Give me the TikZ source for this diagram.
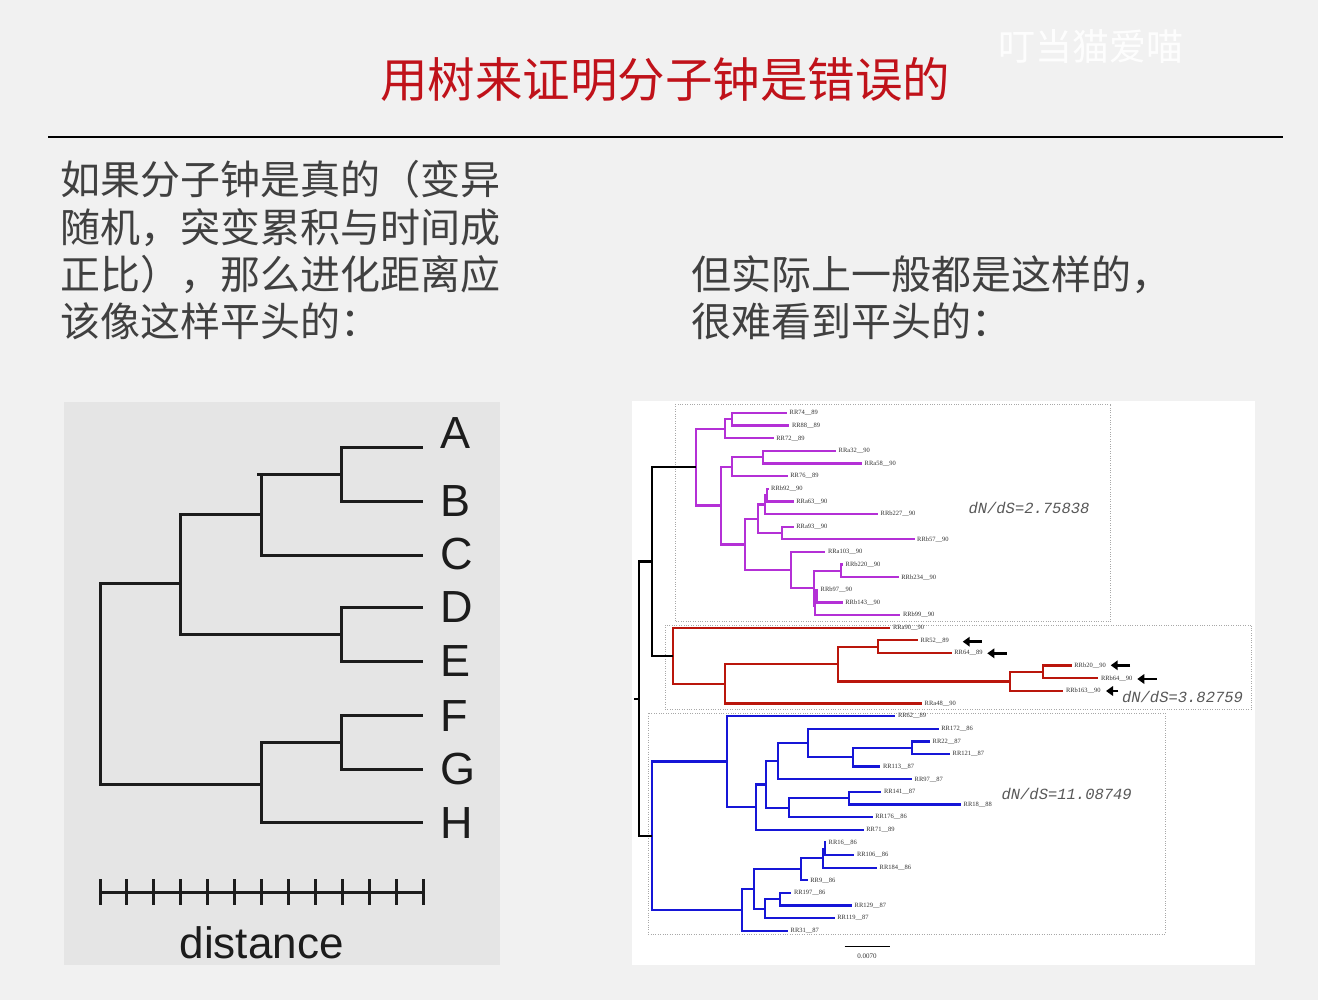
\documentclass[tikz,border=0pt]{standalone}
\usepackage{fontspec}
\setmainfont{Liberation Serif}
\newfontfamily\cjk{Noto Sans CJK SC}
\newfontfamily\arialf{Liberation Sans}
\newfontfamily\monof{Liberation Mono}
\usetikzlibrary{arrows.meta}

\definecolor{bgcol}{HTML}{F1F1F1}
\definecolor{panelgray}{HTML}{E5E5E5}
\definecolor{titlered}{RGB}{192,18,26}
\definecolor{bodygray}{HTML}{404040}
\definecolor{cpurple}{RGB}{180,48,214}
\definecolor{cred}{RGB}{186,22,12}
\definecolor{cblue}{RGB}{22,22,215}
\definecolor{boxgray}{HTML}{A8A8A8}
\definecolor{treeink}{HTML}{1C1C1C}
\definecolor{ratiogray}{HTML}{585858}

\tikzset{
  titletext/.style={anchor=base, text=titlered, font=\cjk\fontsize{47.5}{52}\selectfont, inner sep=0},
  bodytext/.style={anchor=base west, text=bodygray, font=\cjk\fontsize{40}{47}\selectfont, inner sep=0},
  simplebranch/.style={draw=treeink, line width=3pt},
  letterlabel/.style={anchor=west, text=treeink, font=\arialf\fontsize{45}{48}\selectfont, inner sep=0},
  br/.style={line width=2.3pt},
  leaflabel/.style={anchor=west, text=black!80, font=\fontsize{6.5}{7}\selectfont, inner sep=0, xshift=2.5pt},
  dotbox/.style={draw=boxgray, line width=0.8pt, dash pattern=on 0.8pt off 1.6pt},
  ratio/.style={text=ratiogray, font=\monof\itshape\fontsize{15.5}{17}\selectfont, inner sep=0},
  bigarrow/.style={draw=black, line width=2.6pt, -{Triangle[length=7pt,width=9.5pt]}},
}

% leaf: coordinate at the branch tip and its label to the right
\newcommand\tipleaf[4]{\coordinate (#1) at (#2,#3); \node[leaflabel] (#1-lab) at (#1) {#4};}

\begin{document}
\begin{tikzpicture}[x=1pt,y=-1pt]
% page
\fill[bgcol] (0,0) rectangle (1318,1000);
\useasboundingbox (0,0) rectangle (1318,1000);

% watermark
\node[anchor=base, text=white, opacity=0.9, font=\cjk\fontsize{37}{40}\selectfont, inner sep=0] (wm) at (1091,61) {叮当猫爱喵};

% heading and rule
\node[titletext] (title) at (665,98) {用树来证明分子钟是错误的};
\coordinate (ruleL) at (48,137);
\coordinate (ruleR) at (1283,137);
\draw[line width=1.8pt, black] (ruleL) -- (ruleR);

% explanatory text
\node[bodytext] (t1) at (60,195) {如果分子钟是真的（变异};
\node[bodytext] (t2) at (60,242.5) {随机，突变累积与时间成};
\node[bodytext] (t3) at (60,290) {正比），那么进化距离应};
\node[bodytext] (t4) at (60,337) {该像这样平头的：};
\node[bodytext] (u1) at (691,290) {但实际上一般都是这样的，};
\node[bodytext] (u2) at (691,337) {很难看到平头的：};

% ---------------- ultrametric tree ----------------
\fill[panelgray] (64,402) rectangle (500,965);

\coordinate (A) at (423,447);
\coordinate (B) at (423,501);
\coordinate (C) at (423,555);
\coordinate (D) at (423,607);
\coordinate (E) at (423,661);
\coordinate (F) at (423,715);
\coordinate (G) at (423,769);
\coordinate (H) at (423,822);
\coordinate (nAB) at (341.7,474);
\coordinate (nDE) at (341.7,634);
\coordinate (nFG) at (341.7,742);
\coordinate (nABC) at (261.7,514.5);
\coordinate (nFGH) at (261.7,784);
\coordinate (nABCDE) at (180,583);
\coordinate (nRoot) at (100,683);

\foreach \p/\c in {nRoot/nABCDE, nRoot/nFGH, nABCDE/nABC, nABCDE/nDE,
                   nABC/nAB, nABC/C, nAB/A, nAB/B, nDE/D, nDE/E,
                   nFGH/nFG, nFGH/H, nFG/F, nFG/G}
  \draw[simplebranch] (\p) |- (\c);
\draw[simplebranch] ([xshift=-4.7pt]nABC |- nAB) -- (nAB);

\node[letterlabel] (labA) at (440,433) {A};
\node[letterlabel] (labB) at (440,501) {B};
\node[letterlabel] (labC) at (440,554) {C};
\node[letterlabel] (labD) at (440,607) {D};
\node[letterlabel] (labE) at (440,661) {E};
\node[letterlabel] (labF) at (440,716) {F};
\node[letterlabel] (labG) at (440,769) {G};
\node[letterlabel] (labH) at (440,823) {H};

% distance scale
\coordinate (r0) at (100,892);
\coordinate (r1) at (423.3,892);
\draw[simplebranch] (r0) -- (r1);
\foreach \k in {0,...,12}
  \draw[simplebranch] ([shift={(\k*26.94,-13)}]r0) -- ([shift={(\k*26.94,13)}]r0);
\node[anchor=base, text=treeink, font=\arialf\fontsize{44}{48}\selectfont, inner sep=0] (dist) at (261.7,958) {distance};

% ---------------- observed tree ----------------
\fill[white] (632,401) rectangle (1255,965);

\draw[dotbox] (675.3,404) rectangle (1110.7,621.7);
\draw[dotbox] (665.3,625) rectangle (1251.7,709.3);
\draw[dotbox] (648,713.3) rectangle (1165,934);

% backbone
\coordinate (rootstem) at (634,698.7);
\coordinate (root) at (639.3,698.7);
\coordinate (nPR) at (652,561.5);
\coordinate (nBlue) at (652,835.8);

% purple clade
\coordinate (nP) at (696,467.2);
\coordinate (n72g) at (724.7,428.8);
\coordinate (n74) at (732,419.3);
\coordinate (nP2) at (721.3,505.6);
\coordinate (n76g) at (732,466.7);
\coordinate (na32) at (763,457.2);
\coordinate (nB) at (745.3,544.5);
\coordinate (nB1) at (757.7,518.8);
\coordinate (nb227) at (765.3,504.6);
\coordinate (nb92) at (767,495.1);
\coordinate (na93) at (782,533);
\coordinate (nB2) at (791,570.1);
\coordinate (nB2b) at (813.7,588.3);
\coordinate (nb220) at (841.3,570.9);
\coordinate (nb99g) at (815.3,605.6);
\coordinate (nb97) at (816.5,596.2);

\tipleaf{L0}{787}{413.0}{RR74\_\_89}
\tipleaf{L1}{789.3}{425.6}{RR88\_\_89}
\tipleaf{L2}{773.7}{438.3}{RR72\_\_89}
\tipleaf{L3}{836}{450.9}{RRa32\_\_90}
\tipleaf{L4}{862}{463.5}{RRa58\_\_90}
\tipleaf{L5}{787.7}{476.2}{RR76\_\_89}
\tipleaf{L6}{768.5}{488.8}{RRb92\_\_90}
\tipleaf{L7}{793.7}{501.4}{RRa63\_\_90}
\tipleaf{L8}{878}{514.0}{RRb227\_\_90}
\tipleaf{L9}{793.7}{526.7}{RRa93\_\_90}
\tipleaf{L10}{914.5}{539.3}{RRb57\_\_90}
\tipleaf{L11}{825.3}{551.9}{RRa103\_\_90}
\tipleaf{L12}{843}{564.6}{RRb220\_\_90}
\tipleaf{L13}{898.7}{577.2}{RRb234\_\_90}
\tipleaf{L14}{818}{589.8}{RRb97\_\_90}
\tipleaf{L15}{842.7}{602.5}{RRb143\_\_90}
\tipleaf{L16}{900.3}{615.1}{RRb99\_\_90}

% red clade
\coordinate (nR) at (672.7,655.8);
\coordinate (nR2) at (724.7,683.8);
\coordinate (nR3) at (838,664.1);
\coordinate (n52) at (878,646.7);
\coordinate (nb163g) at (1010,681.4);
\coordinate (nb20) at (1043.3,671.9);

\tipleaf{L17}{890.3}{627.7}{RRa90\_\_90}
\tipleaf{L18}{918}{640.3}{RR52\_\_89}
\tipleaf{L19}{951.7}{653.0}{RR64\_\_89}
\tipleaf{L20}{1071.7}{665.6}{RRb20\_\_90}
\tipleaf{L21}{1098.3}{678.2}{RRb64\_\_90}
\tipleaf{L22}{1063.3}{690.8}{RRb163\_\_90}
\tipleaf{L23}{922}{703.5}{RRa48\_\_90}

% blue clade
\coordinate (nU) at (727,761.6);
\coordinate (nU2) at (756.3,807.1);
\coordinate (nU3) at (766.3,784.4);
\coordinate (n97g) at (777.7,761.1);
\coordinate (n172g) at (807.7,743);
\coordinate (n113g) at (852.7,757.2);
\coordinate (n22) at (912,747.7);
\coordinate (n176g) at (788.7,807.7);
\coordinate (n141) at (849.3,798.2);
\coordinate (nL) at (742,910);
\coordinate (nL2) at (753.7,889.1);
\coordinate (n9g) at (801.3,869.3);
\coordinate (n184g) at (822.7,858.2);
\coordinate (n16) at (824.7,848.7);
\coordinate (n119g) at (765.3,908.8);
\coordinate (n197) at (780.3,899.3);

\tipleaf{L24}{895.3}{716.1}{RR62\_\_89}
\tipleaf{L25}{938.7}{728.7}{RR172\_\_86}
\tipleaf{L26}{930}{741.4}{RR22\_\_87}
\tipleaf{L27}{950}{754.0}{RR121\_\_87}
\tipleaf{L28}{880.3}{766.6}{RR113\_\_87}
\tipleaf{L29}{912}{779.3}{RR97\_\_87}
\tipleaf{L30}{881.3}{791.9}{RR141\_\_87}
\tipleaf{L31}{961}{804.5}{RR18\_\_88}
\tipleaf{L32}{872.7}{817.2}{RR176\_\_86}
\tipleaf{L33}{863.7}{829.8}{RR71\_\_89}
\tipleaf{L34}{826}{842.4}{RR16\_\_86}
\tipleaf{L35}{854.3}{855.0}{RR106\_\_86}
\tipleaf{L36}{877}{867.7}{RR184\_\_86}
\tipleaf{L37}{807.7}{880.3}{RR9\_\_86}
\tipleaf{L38}{791.3}{892.9}{RR197\_\_86}
\tipleaf{L39}{852}{905.6}{RR129\_\_87}
\tipleaf{L40}{834.7}{918.2}{RR119\_\_87}
\tipleaf{L41}{788}{930.8}{RR31\_\_87}

% branches, coloured by the parent clade
\foreach \p/\c in {nP/n72g, nP/nP2, n72g/n74, n72g/L2, n74/L0, n74/L1,
                   nP2/n76g, nP2/nB, n76g/na32, n76g/L5, na32/L3, na32/L4,
                   nB/nB1, nB/nB2, nB1/nb227, nB1/na93, nb227/nb92, nb227/L8,
                   nb92/L6, nb92/L7, na93/L9, na93/L10, nB2/L11, nB2/nB2b,
                   nB2b/nb220, nB2b/nb99g, nb220/L12, nb220/L13,
                   nb99g/nb97, nb99g/L16, nb97/L14, nb97/L15}
  \draw[br, cpurple] (\p) |- (\c);

\foreach \p/\c in {nR/L17, nR/nR2, nR2/nR3, nR2/L23, nR3/n52, nR3/nb163g,
                   n52/L18, n52/L19, nb163g/nb20, nb163g/L22, nb20/L20, nb20/L21}
  \draw[br, cred] (\p) |- (\c);

\foreach \p/\c in {nBlue/nU, nBlue/nL, nU/L24, nU/nU2, nU2/nU3, nU2/L33,
                   nU3/n97g, nU3/n176g, n97g/n172g, n97g/L29, n172g/L25, n172g/n113g,
                   n113g/n22, n113g/L28, n22/L26, n22/L27, n176g/n141, n176g/L32,
                   n141/L30, n141/L31, nL/nL2, nL/L41, nL2/n9g, nL2/n119g,
                   n9g/n184g, n9g/L37, n184g/n16, n184g/L36, n16/L34, n16/L35,
                   n119g/n197, n119g/L40, n197/L38, n197/L39}
  \draw[br, cblue] (\p) |- (\c);

\foreach \p/\c in {root/nPR, root/nBlue, nPR/nP, nPR/nR}
  \draw[br, black] (\p) |- (\c);
\draw[br, black] (rootstem) -- (root);

% markers on the fast-evolving tips
\coordinate (a1s) at (981.7,641.7);  \coordinate (a1e) at (962.7,641.7);
\coordinate (a2s) at (1006.7,653.3); \coordinate (a2e) at (987.3,653.3);
\coordinate (a3s) at (1130,665.3);   \coordinate (a3e) at (1110.7,665.3);
\coordinate (a4s) at (1156.7,679);   \coordinate (a4e) at (1137.3,679);
\coordinate (a5s) at (1118.3,691);   \coordinate (a5e) at (1106,691);
\foreach \i in {1,...,5}
  \draw[bigarrow] (a\i s) -- (a\i e);

% dN/dS ratios
\node[ratio] (rP) at (1029,508.3) {dN/dS=2.75838};
\node[ratio] (rR) at (1182.5,696.7) {dN/dS=3.82759};
\node[ratio] (rB) at (1066.7,794) {dN/dS=11.08749};

% scale bar
\coordinate (s0) at (844.7,946);
\coordinate (s1) at (890.3,946);
\draw[black, line width=1pt] (s0) -- (s1);
\node[text=black!80, font=\fontsize{7}{8}\selectfont, inner sep=0] (slab) at (867,956.7) {0.0070};
\end{tikzpicture}
\end{document}
